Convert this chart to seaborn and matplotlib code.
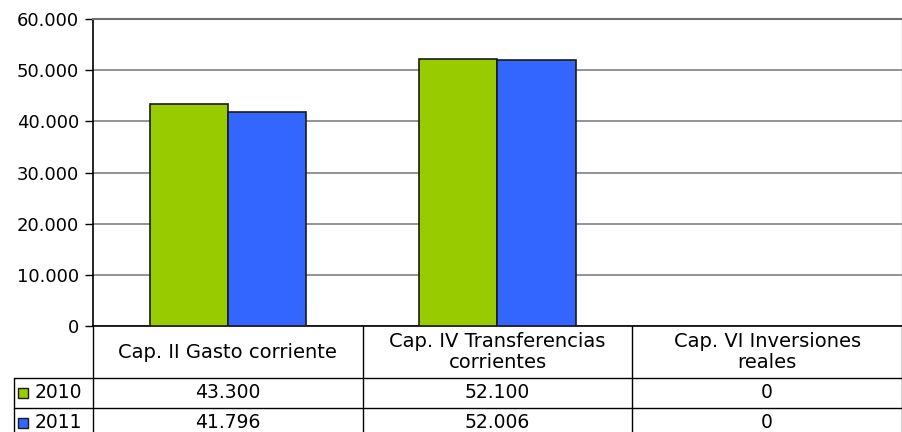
import numpy as np
import pandas as pd
import matplotlib
matplotlib.use("Agg")
import matplotlib.pyplot as plt
import matplotlib.transforms as mtransforms
import seaborn as sns

# data
categories = ["Cap. II Gasto corriente", "Cap. IV Transferencias\ncorrientes", "Cap. VI Inversiones\nreales"]
years = ["2010", "2011"]
vals_2010 = [43300, 52100, 0]
vals_2011 = [41796, 52006, 0]
colors = ["#99CC00", "#3366FF"]

df = pd.DataFrame({
    "cat": categories * 2,
    "year": [years[0]] * 3 + [years[1]] * 3,
    "value": vals_2010 + vals_2011,
})

def fmt(v):
    return f"{v:,.0f}".replace(",", ".")

sns.set_style("white")
plt.rcParams["font.family"] = ["DejaVu Sans"]
plt.rcParams["text.color"] = "black"

W, H = 903, 432
fig = plt.figure(figsize=(W / 100, H / 100), dpi=100)
ax = fig.add_axes([93 / W, 1 - 326 / H, (902 - 93) / W, (326 - 19) / H])

sns.barplot(data=df, x="cat", y="value", hue="year", palette=colors, width=0.58,
            saturation=1, edgecolor="#1a1a1a", linewidth=1.2, legend=False, ax=ax, zorder=3)

ax.set_ylim(0, 60000)
ax.set_xlim(-0.5, 2.5)
ax.set_yticks(np.arange(0, 60001, 10000))
ax.set_yticklabels([fmt(v) for v in np.arange(0, 60001, 10000)], fontsize=13, color="black")
ax.set_xticks([])
ax.set_xlabel("")
ax.set_ylabel("")
ax.yaxis.grid(True, color="#808080", linewidth=1.2, zorder=0)
ax.tick_params(axis="y", left=True, length=6, width=1, color="black", pad=4)
for s in ["left", "bottom"]:
    ax.spines[s].set_color("black")
    ax.spines[s].set_linewidth(1.2)
ax.spines["top"].set_color("#707070")
ax.spines["top"].set_linewidth(1.5)
ax.spines["right"].set_color("#c0c0c0")
ax.spines["right"].set_linewidth(1)

# data table under the axis
tr = mtransforms.blended_transform_factory(ax.transData, fig.transFigure)
figtr = fig.transFigure
fy = lambda px: 1 - px / H
lw = 1
for y in [378, 408]:
    ax.plot([-0.5, 2.5], [fy(y)] * 2, transform=tr, color="black", lw=lw, clip_on=False)
    fig.add_artist(plt.Line2D([14 / W, 93 / W], [fy(y)] * 2, transform=figtr, color="black", lw=lw))
fig.add_artist(plt.Line2D([14 / W, 14 / W], [fy(378), fy(440)], transform=figtr, color="black", lw=lw))
for xb in [-0.5, 0.5, 1.5, 2.5]:
    ax.plot([xb, xb], [fy(326), fy(440)], transform=tr, color="black", lw=lw, clip_on=False)

for i, c in enumerate(categories):
    ax.text(i, fy(352), c, transform=tr, ha="center", va="center", fontsize=14,
            linespacing=1.12)
    ax.text(i, fy(392), fmt(vals_2010[i]), transform=tr, ha="center", va="center", fontsize=13.5)
    ax.text(i, fy(422), fmt(vals_2011[i]), transform=tr, ha="center", va="center", fontsize=13.5)

for yv, lab, col in zip([393, 423], years, colors):
    fig.add_artist(plt.Line2D([23 / W], [fy(yv)], transform=figtr, marker="s", markersize=7,
                              markerfacecolor=col, markeredgecolor="#1a1a1a", markeredgewidth=1))
    fig.text(35 / W, fy(yv), lab, ha="left", va="center", fontsize=13.5)

fig.savefig("out.png", dpi=100, facecolor="white")
